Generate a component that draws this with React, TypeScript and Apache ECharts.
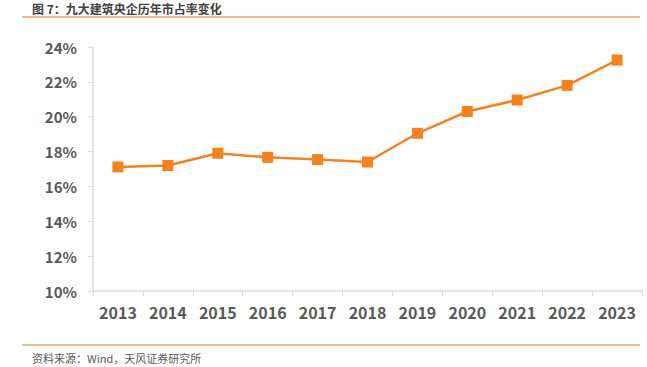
import React, { useEffect, useRef } from "react";
import * as echarts from "echarts";

const years = ["2013", "2014", "2015", "2016", "2017", "2018", "2019", "2020", "2021", "2022", "2023"];
const share = [17.12, 17.2, 17.9, 17.67, 17.54, 17.4, 19.05, 20.3, 20.96, 21.8, 23.25];
const titleText = "图 7：九大建筑央企历年市占率变化";
const sourceText = "资料来源：Wind，天风证券研究所";

export default function App() {
  const ref = useRef<HTMLDivElement>(null);
  useEffect(() => {
    document.body.style.margin = "0";
    const chart = echarts.init(ref.current!, null, { renderer: "svg" });
    const font = "'Noto Sans CJK SC', 'Noto Sans', sans-serif";
    chart.setOption({
      animation: false,
      backgroundColor: "#ffffff",
      grid: { left: 93, right: 5, top: 47, bottom: 76 },
      xAxis: {
        type: "category",
        data: years,
        boundaryGap: true,
        axisLine: { lineStyle: { color: "#d9d9d9", width: 1.5 } },
        axisTick: { show: true, length: 5, lineStyle: { color: "#d9d9d9" } },
        axisLabel: { color: "#595959", fontSize: 16, fontWeight: "bold", fontFamily: font, margin: 13 },
      },
      yAxis: {
        type: "value",
        min: 10,
        max: 24,
        interval: 2,
        splitLine: { show: false },
        axisLine: { show: true, lineStyle: { color: "#d9d9d9", width: 1.5 } },
        axisTick: { show: true, length: 5, lineStyle: { color: "#d9d9d9" } },
        axisLabel: {
          color: "#595959",
          fontSize: 15,
          fontWeight: "bold",
          fontFamily: font,
          margin: 16,
          formatter: (v: number) => `${v}%`,
        },
      },
      series: [
        {
          type: "line",
          data: share,
          symbol: "rect",
          symbolSize: 11,
          itemStyle: { color: "#F5821F" },
          lineStyle: { color: "#F5821F", width: 2.5 },
        },
      ],
      graphic: [
        {
          type: "text",
          left: 32,
          top: 2,
          style: { text: titleText, fill: "#404040", font: `bold 12px ${font}`, lineHeight: 13 },
        },
        {
          type: "line",
          shape: { x1: 22, y1: 17, x2: 640, y2: 17 },
          style: { stroke: "#F5A35C", lineWidth: 1.5 },
        },
        {
          type: "line",
          shape: { x1: 22, y1: 345, x2: 640, y2: 345 },
          style: { stroke: "#F5A35C", lineWidth: 1.5 },
        },
        {
          type: "text",
          left: 32,
          top: 352,
          style: { text: sourceText, fill: "#595959", font: `11px ${font}` },
        },
      ],
    });
    return () => chart.dispose();
  }, []);
  return <div ref={ref} style={{ width: 647, height: 367 }} />;
}
